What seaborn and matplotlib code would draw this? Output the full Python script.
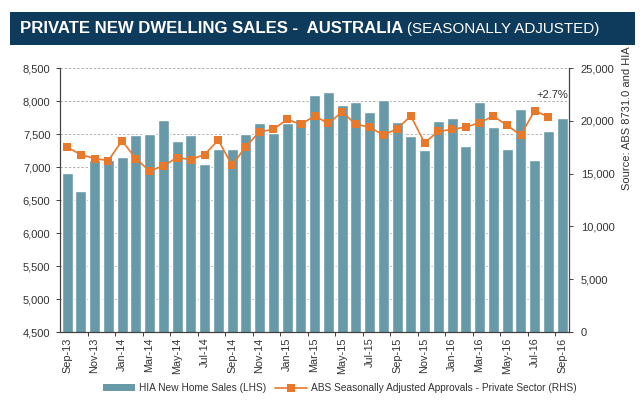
import matplotlib.pyplot as plt
import matplotlib.ticker as mticker
import numpy as np
import pandas as pd
import seaborn as sns
from matplotlib.lines import Line2D
from matplotlib.patches import Patch, Rectangle

months = [
    "Sep-13", "Oct-13", "Nov-13", "Dec-13", "Jan-14", "Feb-14", "Mar-14", "Apr-14",
    "May-14", "Jun-14", "Jul-14", "Aug-14", "Sep-14", "Oct-14", "Nov-14", "Dec-14",
    "Jan-15", "Feb-15", "Mar-15", "Apr-15", "May-15", "Jun-15", "Jul-15", "Aug-15",
    "Sep-15", "Oct-15", "Nov-15", "Dec-15", "Jan-16", "Feb-16", "Mar-16", "Apr-16",
    "May-16", "Jun-16", "Jul-16", "Aug-16", "Sep-16",
]
# HIA new home sales (left axis)
hia_sales = [
    6910, 6640, 7100, 7110, 7150, 7485, 7500, 7720, 7390, 7485, 7040, 7275,
    7275, 7500, 7660, 7520, 7660, 7735, 8085, 8130, 7940, 7990, 7830, 8015,
    7690, 7465, 7260, 7705, 7745, 7320, 7990, 7605, 7275, 7880, 7100, 7550, 7745,
]
# ABS approvals, private sector (right axis) - no value yet for Sep-16
abs_approvals = [
    17500, 16810, 16430, 16240, 18110, 16430, 15250, 15730, 16520, 16330, 16810, 18170,
    15790, 17570, 18970, 19190, 20140, 19670, 20460, 19760, 20840, 19670, 19410, 18650,
    19250, 20460, 17920, 19000, 19190, 19410, 19820, 20460, 19570, 18650, 20970, 20365,
    np.nan,
]
left_ticks = list(range(4500, 8501, 500))
right_ticks = list(range(0, 25001, 5000))

df = pd.DataFrame({"month": months, "hia": hia_sales, "abs": abs_approvals})
df["pos"] = np.arange(len(df))

BAR = "#6899a9"
ORANGE = "#e8782a"
NAVY = "#0e3a5c"
TXT = "#333333"
SPINE = "#404040"

sns.set_theme(style="white")
plt.rcParams["font.family"] = ["Liberation Sans", "DejaVu Sans"]

fig = plt.figure(figsize=(6.4, 4.15), dpi=100)
ax = fig.add_axes([0.094, 0.2, 0.795, 0.636])

sns.barplot(data=df, x="month", y="hia", color=BAR, saturation=1, width=0.8, ax=ax)
ax.set_ylim(left_ticks[0], left_ticks[-1])
ax.set_yticks(left_ticks)
ax.yaxis.set_major_formatter(mticker.StrMethodFormatter("{x:,.0f}"))
ax.set_axisbelow(True)
ax.yaxis.grid(True, linestyle=(0, (3, 2)), color="#a8a8a8", linewidth=0.6)
ax.set_xlabel("")
ax.set_ylabel("")

ax2 = ax.twinx()
sns.lineplot(data=df, x="pos", y="abs", ax=ax2, color=ORANGE, linewidth=1.2,
             marker="s", markersize=5.5, markeredgewidth=0)
ax2.set_ylim(right_ticks[0], right_ticks[-1])
ax2.set_yticks(right_ticks)
ax2.yaxis.set_major_formatter(mticker.StrMethodFormatter("{x:,.0f}"))
ax2.set_ylabel("")
ax.set_xlim(-0.5, len(months) - 0.5)

# x labels every second month, tick marks between categories
ax.set_xticks(df["pos"][::2], months[::2], rotation=90)
ax.set_xticks(df["pos"][1::2] + 0.5, minor=True)
ax.tick_params(axis="x", which="major", length=0, pad=4, labelsize=7.8, labelcolor=TXT)
ax.tick_params(axis="x", which="minor", bottom=True, length=3, width=0.7, color=SPINE)
ax.tick_params(axis="y", left=True, length=3, width=0.7, color=SPINE, labelsize=8,
               labelcolor=TXT, pad=4)
ax2.tick_params(axis="y", right=True, length=3, width=0.7, color=SPINE, labelsize=8,
                labelcolor=TXT, pad=5.5)

for a in (ax, ax2):
    a.spines["top"].set_visible(False)
    for s in ("left", "right", "bottom"):
        a.spines[s].set_color(SPINE)
        a.spines[s].set_linewidth(0.8)

last = df.dropna().iloc[-1]
ax2.annotate("+2.7%", xy=(last["pos"], last["abs"]), xytext=(14, 16),
             textcoords="offset points", ha="right", va="center",
             fontsize=8, color=TXT)

# title banner
fig.patches.append(Rectangle((0.0156, 0.891), 0.9766, 0.081, transform=fig.transFigure,
                             facecolor=NAVY, edgecolor="none", zorder=-1))
t1 = fig.text(0.031, 0.931, "PRIVATE NEW DWELLING SALES -  AUSTRALIA", color="white",
              fontsize=12.1, fontweight="bold", va="center", ha="left")
ax.annotate("(SEASONALLY ADJUSTED)", xy=(1, 0), xycoords=t1, xytext=(2.5, 0),
            textcoords="offset points", va="bottom", ha="left", color="white",
            fontsize=10.9, annotation_clip=False)

fig.text(0.98, 0.716, "Source: ABS 8731.0 and HIA", rotation=90, ha="center",
         va="center", fontsize=8, color=TXT)

handles = [
    Patch(facecolor=BAR, edgecolor="none"),
    Line2D([], [], color=ORANGE, linewidth=1.2, marker="s", markersize=5.5,
           markeredgewidth=0),
]
fig.legend(handles, ["HIA New Home Sales (LHS)",
                     "ABS Seasonally Adjusted Approvals - Private Sector (RHS)"],
           loc="center", bbox_to_anchor=(0.531, 0.065), ncol=2, frameon=False,
           fontsize=7.3, handlelength=3.2, handleheight=0.6, columnspacing=0.8,
           handletextpad=0.4, labelcolor=TXT)

fig.savefig("out.png", dpi=100)
